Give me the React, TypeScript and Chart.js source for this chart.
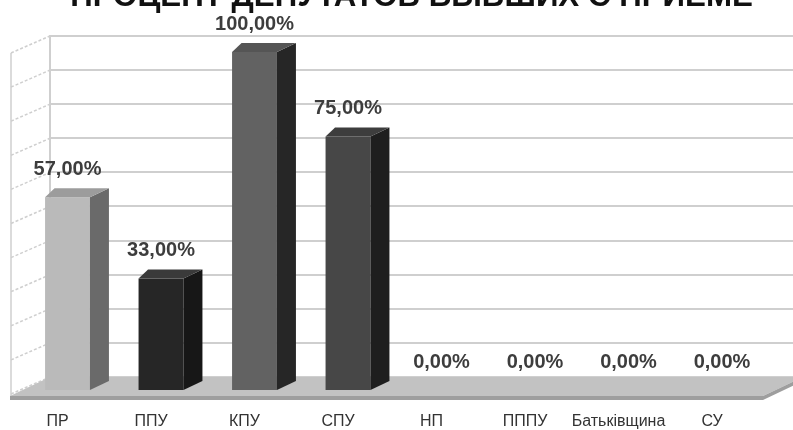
import React, { useEffect, useRef } from "react";
import { Chart, registerables } from "chart.js";

Chart.register(...registerables);

const title = "ПРОЦЕНТ ДЕПУТАТОВ БЫВШИХ С ПРИЕМЕ";
const categories = ["ПР", "ППУ", "КПУ", "СПУ", "НП", "ПППУ", "Батьківщина", "СУ"];
const values = [57, 33, 100, 75, 0, 0, 0, 0];
const gridValues = [0, 10, 20, 30, 40, 50, 60, 70, 80, 90, 100];
const frontColors = ["#bababa", "#262626", "#626262", "#474747", "#474747", "#474747", "#474747", "#474747"];
const sideColors = ["#6a6a6a", "#171717", "#262626", "#1e1e1e", "#1e1e1e", "#1e1e1e", "#1e1e1e", "#1e1e1e"];
const topColors = ["#9c9c9c", "#3a3a3a", "#555555", "#3d3d3d", "#3d3d3d", "#3d3d3d", "#3d3d3d", "#3d3d3d"];

const fmt = (v: number) => v.toFixed(2).replace(".", ",") + "%";

const FONT = '"Liberation Sans", Arial, sans-serif';

const scenePlugin = {
  id: "scene3d",
  beforeDatasetsDraw(chart: any) {
    const { ctx, scales, width } = chart;
    const y = scales.y;
    const base = y.getPixelForValue(0);
    const backY = (v: number) => {
      const p = y.getPixelForValue(v);
      return p - 13 - (base - p) * 0.009;
    };
    const wallX = 50;
    const frontX = 11;
    const sideDY = 17;
    ctx.save();
    // back wall gridlines
    ctx.strokeStyle = "#cfcfcf";
    ctx.lineWidth = 2;
    gridValues.forEach((v) => {
      const by = Math.round(backY(v)) + 0.0;
      ctx.beginPath();
      ctx.moveTo(wallX, by);
      ctx.lineTo(width, by);
      ctx.stroke();
    });
    // back wall left vertical edge
    ctx.beginPath();
    ctx.moveTo(wallX, backY(100) - 1);
    ctx.lineTo(wallX, backY(0));
    ctx.stroke();
    // side wall front vertical
    ctx.lineWidth = 1.5;
    ctx.beginPath();
    ctx.moveTo(frontX, backY(100) + sideDY);
    ctx.lineTo(frontX, backY(0) + sideDY + 2);
    ctx.stroke();
    // side wall slanted dashed lines
    ctx.setLineDash([3, 2]);
    ctx.lineWidth = 1.5;
    gridValues.forEach((v) => {
      const by = backY(v);
      ctx.beginPath();
      ctx.moveTo(frontX, by + sideDY);
      ctx.lineTo(wallX, by);
      ctx.stroke();
    });
    ctx.setLineDash([]);
    // floor
    const fb = backY(0);
    const ff = fb + 19;
    ctx.fillStyle = "#c2c2c2";
    ctx.beginPath();
    ctx.moveTo(wallX, fb);
    ctx.lineTo(width + 10, fb);
    ctx.lineTo(763, ff);
    ctx.lineTo(frontX - 1, ff);
    ctx.closePath();
    ctx.fill();
    ctx.fillStyle = "#9e9e9e";
    ctx.beginPath();
    ctx.moveTo(frontX - 1, ff);
    ctx.lineTo(763, ff);
    ctx.lineTo(width + 10, fb);
    ctx.lineTo(width + 10, fb + 4);
    ctx.lineTo(763, ff + 4);
    ctx.lineTo(frontX - 1, ff + 4);
    ctx.closePath();
    ctx.fill();
    ctx.restore();
  },
  afterDatasetsDraw(chart: any) {
    const { ctx } = chart;
    const meta = chart.getDatasetMeta(0);
    const DX = 19;
    const DY = 9;
    ctx.save();
    meta.data.forEach((bar: any, i: number) => {
      const v = values[i];
      const { x, y, base, width } = bar.getProps(["x", "y", "base", "width"], true);
      const l = x - width / 2;
      const r = x + width / 2;
      if (v > 0) {
        ctx.fillStyle = sideColors[i];
        ctx.beginPath();
        ctx.moveTo(r, y);
        ctx.lineTo(r + DX, y - DY);
        ctx.lineTo(r + DX, base - DY);
        ctx.lineTo(r, base);
        ctx.closePath();
        ctx.fill();
        ctx.fillStyle = topColors[i];
        ctx.beginPath();
        ctx.moveTo(l, y);
        ctx.lineTo(l + DX * 0.5, y - DY);
        ctx.lineTo(r + DX, y - DY);
        ctx.lineTo(r, y);
        ctx.closePath();
        ctx.fill();
      }
      ctx.fillStyle = "#3d3d3d";
      ctx.font = `bold 20px ${FONT}`;
      ctx.textAlign = "center";
      ctx.textBaseline = "middle";
      ctx.fillText(fmt(v), x, y - 28);
    });
    ctx.restore();
  },
  afterDraw(chart: any) {
    const { ctx } = chart;
    ctx.save();
    let size = 31;
    ctx.font = `bold ${size}px ${FONT}`;
    const w = ctx.measureText(title).width;
    size = size * (683 / w);
    ctx.font = `bold ${size}px ${FONT}`;
    ctx.fillStyle = "#111111";
    ctx.textAlign = "center";
    ctx.textBaseline = "alphabetic";
    ctx.fillText(title, 411.5, 6);
    ctx.restore();
  },
};

export default function App() {
  const ref = useRef<HTMLCanvasElement | null>(null);
  useEffect(() => {
    if (!ref.current) return;
    const chart = new Chart(ref.current, {
      type: "bar",
      data: {
        labels: categories,
        datasets: [
          {
            data: values,
            backgroundColor: frontColors,
            borderWidth: 0,
            categoryPercentage: 1,
            barPercentage: 0.48,
          },
        ],
      },
      options: {
        animation: false,
        responsive: false,
        maintainAspectRatio: false,
        layout: { padding: { left: 20.75, right: 24.25, top: 52, bottom: 0 } },
        plugins: {
          legend: { display: false },
          tooltip: { enabled: false },
          title: { display: false },
        },
        scales: {
          y: { display: false, min: 0, max: 100 },
          x: {
            grid: { display: false, drawTicks: false },
            border: { display: false },
            ticks: {
              color: "#333333",
              font: { family: FONT, size: 16 },
              padding: 22,
              labelOffset: -10,
              maxRotation: 0,
              autoSkip: false,
            },
            afterFit: (s: any) => {
              s.height = 40;
            },
          },
        },
      },
      plugins: [scenePlugin],
    });
    return () => chart.destroy();
  }, []);
  return (
    <div style={{ position: "fixed", left: 0, top: 0, width: 793, height: 430, background: "#ffffff" }}>
      <canvas ref={ref} width={793} height={430} style={{ width: 793, height: 430, display: "block" }} />
    </div>
  );
}
